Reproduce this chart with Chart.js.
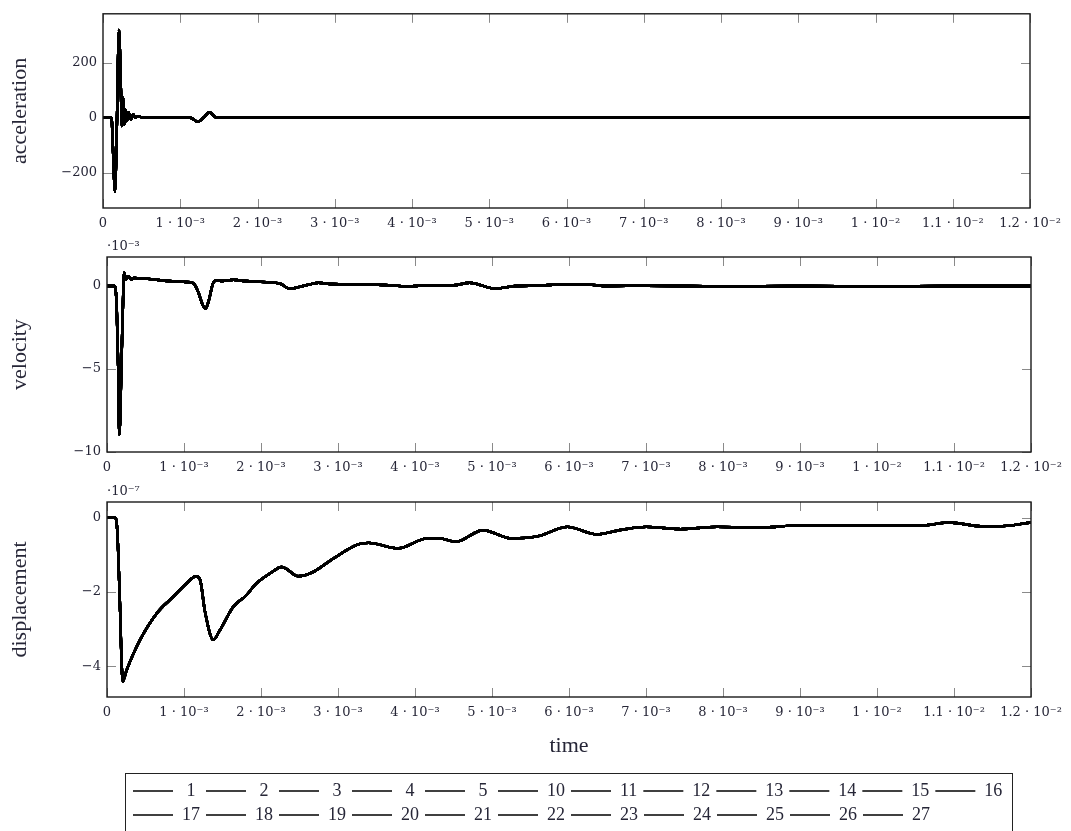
<!DOCTYPE html>
<html lang="en">
<head>
<meta charset="UTF-8">
<title>acceleration / velocity / displacement</title>
<script src="https://cdn.jsdelivr.net/npm/chart.js"></script>
<style>
  body { margin: 0; background: #fff; width: 1071px; height: 831px; overflow: hidden; position: relative; }
  canvas.panel { position: absolute; left: 0; }
  #legendBox { position: absolute; left: 125px; top: 773px; width: 886px; height: 80px; border: 1.5px solid #222; }
  #legendBox canvas { position: absolute; left: 0; top: 0; }
</style>
</head>
<body>

<canvas class="panel" id="accChart" width="1071" height="240" style="top:0"></canvas>
<canvas class="panel" id="velChart" width="1071" height="250" style="top:236px"></canvas>
<canvas class="panel" id="dispChart" width="1071" height="290" style="top:480px"></canvas>
<div id="legendBox"><canvas id="legendChart" width="884" height="140"></canvas></div>

<script>
// series shown in the legend (all drawn black, nearly on top of each other)
const seriesNames = ['1', '2', '3', '4', '5', '10', '11', '12', '13', '14', '15', '16',
  '17', '18', '19', '20', '21', '22', '23', '24', '25', '26', '27'];

// time axis
const xTicks = [0, 0.001, 0.002, 0.003, 0.004, 0.005, 0.006, 0.007, 0.008, 0.009, 0.01, 0.011, 0.012];
const xTickLabels = ['0', '1 · 10⁻³', '2 · 10⁻³', '3 · 10⁻³', '4 · 10⁻³', '5 · 10⁻³', '6 · 10⁻³',
  '7 · 10⁻³', '8 · 10⁻³', '9 · 10⁻³', '1 · 10⁻²', '1.1 · 10⁻²', '1.2 · 10⁻²'];

// acceleration
const accTime = [0, 0.00011, 0.00013, 0.000155, 0.00018, 0.000207, 0.00023, 0.000245, 0.00026, 0.000275,
  0.00029, 0.00031, 0.00033, 0.00036, 0.00039, 0.00042, 0.00046, 0.00052, 0.00113, 0.00123, 0.0013,
  0.001376, 0.00147, 0.012];
const accValue = [0, 0, -120, -269, -20, 320, 120, -30, 73, -25, 30, -12, 20, -6, 12, 0, 6, 0, 0, -15, 0,
  20, 0, 0];
const accTicks = [-200, 0, 200];
const accTickLabels = ['−200', '0', '200'];

// velocity (·10⁻³)
const velTime = [0, 0.0001, 0.000126, 0.000147, 0.00016, 0.00019, 0.000212, 0.00022, 0.00025, 0.00028,
  0.00032, 0.00036, 0.0004, 0.0005, 0.0006, 0.0008, 0.001, 0.00112, 0.00118, 0.00124, 0.00128, 0.00132,
  0.00138, 0.001425, 0.0015, 0.00164, 0.0018, 0.002, 0.00225, 0.00237, 0.0025, 0.00265, 0.00275, 0.0029,
  0.0033, 0.0036, 0.0039, 0.0042, 0.0045, 0.00471, 0.00504, 0.0053, 0.0056, 0.0059, 0.0062, 0.0065,
  0.007, 0.008, 0.009, 0.01, 0.011, 0.012];
const velValue = [0, 0, -1.25, -5.2, -8.97, -4.2, -0.25, 0.8, 0.4, 0.6,
  0.4, 0.5, 0.45, 0.45, 0.4, 0.3, 0.25, 0.18, -0.3, -1.1, -1.35, -0.9,
  0.2, 0.34, 0.3, 0.38, 0.3, 0.25, 0.14, -0.16, -0.05, 0.12, 0.2, 0.12,
  0.1, 0.06, -0.02, 0.05, 0.05, 0.2, -0.16, 0, 0.02, 0.1, 0.1, 0,
  0.02, -0.02, 0, -0.02, 0, 0];
const velTicks = [-10, -5, 0];
const velTickLabels = ['−10', '−5', '0'];

// displacement (·10⁻⁷)
const dispTime = [0, 0.000104, 0.00013, 0.000147, 0.000169, 0.000185, 0.000204, 0.000256, 0.00043,
  0.000645, 0.00086, 0.001035, 0.001156, 0.00121, 0.00127, 0.00138, 0.001467, 0.00164, 0.00181, 0.00194,
  0.00212, 0.00227, 0.00233, 0.00248, 0.00268, 0.00294, 0.00326, 0.0034, 0.00378, 0.00416, 0.00432,
  0.00453, 0.00488, 0.00526, 0.0056, 0.00598, 0.00636, 0.00665, 0.007, 0.00745, 0.00792, 0.0085,
  0.00897, 0.01059, 0.01094, 0.01134, 0.01163, 0.012];
const dispValue = [0, 0, -0.25, -1.0, -2.4, -3.6, -4.41, -4.1, -3.29,
  -2.58, -2.13, -1.77, -1.58, -1.68, -2.5, -3.29, -3.03, -2.4, -2.09, -1.77,
  -1.5, -1.33, -1.38, -1.58, -1.46, -1.1, -0.72, -0.68, -0.83, -0.56, -0.56,
  -0.65, -0.34, -0.56, -0.5, -0.25, -0.45, -0.34, -0.25, -0.31, -0.25, -0.27,
  -0.21, -0.21, -0.13, -0.23, -0.23, -0.13];
const dispTicks = [-4, -2, 0];
const dispTickLabels = ['−4', '−2', '0'];

const textColor = '#262637';
const tickFont = { family: 'DejaVu Serif', size: 13 };
const titleFont = { family: 'Liberation Serif', size: 22 };

// frame + inward tick marks like pgfplots, plus the "·10^-n" note
const framePlugin = {
  id: 'frame',
  beforeDatasetsDraw(chart) {
    const { ctx, chartArea: a, scales: { x, y } } = chart;
    ctx.save();
    ctx.strokeStyle = '#8a8a8a';
    ctx.lineWidth = 1;
    ctx.beginPath();
    x.ticks.forEach(t => {
      const px = Math.round(x.getPixelForValue(t.value)) + 0.5;
      ctx.moveTo(px, a.top); ctx.lineTo(px, a.top + 9);
      ctx.moveTo(px, a.bottom); ctx.lineTo(px, a.bottom - 9);
    });
    y.ticks.forEach(t => {
      const py = Math.round(y.getPixelForValue(t.value)) + 0.5;
      ctx.moveTo(a.left, py); ctx.lineTo(a.left + 9, py);
      ctx.moveTo(a.right, py); ctx.lineTo(a.right - 9, py);
    });
    ctx.stroke();
    ctx.restore();
  },
  afterDraw(chart, args, opts) {
    const { ctx, chartArea: a } = chart;
    ctx.save();
    ctx.strokeStyle = '#1a1a1a';
    ctx.lineWidth = 1.4;
    ctx.strokeRect(a.left, a.top, a.width, a.height);
    if (opts.note) {
      ctx.fillStyle = textColor;
      ctx.font = '13px "DejaVu Serif"';
      ctx.textBaseline = 'alphabetic';
      ctx.fillText(opts.note, a.left, a.top - 7);
    }
    ctx.restore();
  }
};

function makeSets(t, v) {
  return seriesNames.map(name => ({
    label: name,
    data: t.map((x, i) => ({ x: x, y: v[i] })),
    borderColor: '#000',
    borderWidth: 2.4,
    pointRadius: 0,
    fill: false,
    cubicInterpolationMode: 'monotone'
  }));
}

function drawPanel(id, t, v, o) {
  new Chart(document.getElementById(id), {
    type: 'line',
    data: { datasets: makeSets(t, v) },
    options: {
      responsive: false,
      animation: false,
      events: [],
      layout: { padding: { left: 0, right: o.right, top: o.top, bottom: 0 } },
      plugins: {
        legend: { display: false },
        tooltip: { enabled: false },
        frame: { note: o.note }
      },
      scales: {
        x: {
          type: 'linear',
          min: 0,
          max: 0.012,
          bounds: 'data',
          grid: { display: false, drawTicks: false },
          border: { display: false },
          afterBuildTicks: s => { s.ticks = xTicks.map(value => ({ value })); },
          afterFit: s => { s.height = o.xh; },
          ticks: {
            autoSkip: false, maxRotation: 0, minRotation: 0, padding: 8,
            color: textColor, font: tickFont,
            callback: (val, i) => xTickLabels[i]
          },
          title: o.xTitle
            ? { display: true, text: o.xTitle, color: textColor, font: titleFont, padding: { top: 0, bottom: 11 } }
            : { display: false }
        },
        y: {
          type: 'linear',
          min: o.min,
          max: o.max,
          bounds: 'data',
          grid: { display: false, drawTicks: false },
          border: { display: false },
          afterBuildTicks: s => { s.ticks = o.ticks.map(value => ({ value })); },
          afterFit: s => { s.width = o.yw; },
          ticks: {
            autoSkip: false, padding: 6, color: textColor, font: tickFont,
            callback: (val, i) => o.tickLabels[i]
          },
          title: { display: true, text: o.title, color: textColor, font: titleFont, padding: { top: 7, bottom: 0 } }
        }
      }
    },
    plugins: [framePlugin]
  });
}

drawPanel('accChart', accTime, accValue, {
  title: 'acceleration', min: -329, max: 379, ticks: accTicks, tickLabels: accTickLabels,
  top: 12, right: 41, xh: 32, yw: 103
});
drawPanel('velChart', velTime, velValue, {
  title: 'velocity', min: -10, max: 1.75, ticks: velTicks, tickLabels: velTickLabels,
  top: 21, right: 40, xh: 34, yw: 107, note: '·10⁻³'
});
drawPanel('dispChart', dispTime, dispValue, {
  title: 'displacement', min: -4.83, max: 0.42, ticks: dispTicks, tickLabels: dispTickLabels,
  top: 22, right: 40, xh: 73, yw: 107, note: '·10⁻⁷', xTitle: 'time'
});

// legend box below the plots
new Chart(document.getElementById('legendChart'), {
  type: 'line',
  data: {
    datasets: seriesNames.map(name => ({
      label: name.length === 1 ? '\u2008' + name + '\u2008' : name,
      data: [],
      borderColor: '#000',
      borderWidth: 1.5
    }))
  },
  options: {
    responsive: false,
    animation: false,
    events: [],
    layout: { padding: { left: 1, top: 2 } },
    scales: { x: { display: false }, y: { display: false } },
    plugins: {
      tooltip: { enabled: false },
      legend: {
        position: 'top',
        align: 'start',
        labels: {
          usePointStyle: true,
          pointStyle: 'line',
          pointStyleWidth: 40,
          padding: 6,
          color: textColor,
          font: { family: 'Liberation Serif', size: 18 }
        }
      }
    }
  }
});
</script>
</body>
</html>
